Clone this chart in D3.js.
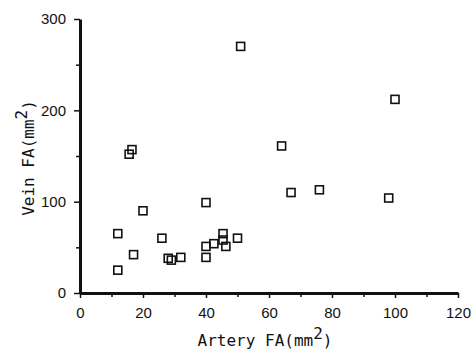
<!DOCTYPE html>
<html>
<head>
<meta charset="utf-8">
<script src="https://cdn.jsdelivr.net/npm/d3@7"></script>
<style>
  body { margin: 0; background: #fff; }
  svg { display: block; }
  .tick text { font-family: "Liberation Sans", sans-serif; font-size: 15px; fill: #111; }
  .title { font-family: "DejaVu Sans Mono", monospace; font-size: 16px; fill: #111; }
</style>
</head>
<body>
<svg></svg>
<script>
let width = 472,
    height = 349

// artery FA (mm^2) and vein FA (mm^2)
const arteryFA = [51, 100, 64, 15.6, 16.5, 12, 12, 17, 20, 26, 28, 29, 32, 40, 40, 40, 42.5, 45.4, 45.4, 46.3, 50, 67, 76, 98]
const veinFA   = [270, 212, 161, 152, 157, 25, 65, 42, 90, 60, 38, 36, 39, 99, 51, 39, 54, 65, 58, 51, 60, 110, 113, 104]

const xTicks = [0, 20, 40, 60, 80, 100, 120]
const xMinor = [10, 30, 50, 70, 90, 110]
const yTicks = [0, 100, 200, 300]
const yMinor = [50, 150, 250]

const points = arteryFA.map((a, i) => ({x: a, y: veinFA[i]}))

const svg = d3.select("svg")
    .attr("width", width)
    .attr("height", height)

const x = d3.scaleLinear().domain([0, 120]).range([80, 458])
const y = d3.scaleLinear().domain([0, 300]).range([293, 19])

// minor ticks first, then the labelled ones on top
svg.append("g")
    .attr("transform", `translate(0,${y(0)})`)
    .call(d3.axisBottom(x).tickValues(xMinor).tickSize(4).tickFormat(""))
    .call(g => g.select(".domain").remove())
    .selectAll("line").attr("stroke", "#111").attr("stroke-width", 1.5)

svg.append("g")
    .attr("transform", `translate(${x(0)},0)`)
    .call(d3.axisLeft(y).tickValues(yMinor).tickSize(4).tickFormat(""))
    .call(g => g.select(".domain").remove())
    .selectAll("line").attr("stroke", "#111").attr("stroke-width", 1.5)

const xAxis = svg.append("g")
    .attr("transform", `translate(0,${y(0)})`)
    .call(d3.axisBottom(x).tickValues(xTicks).tickSize(5).tickSizeOuter(0).tickPadding(9))
xAxis.select(".domain").attr("stroke", "#111").attr("stroke-width", 3)
xAxis.selectAll(".tick line").attr("stroke", "#111").attr("stroke-width", 1.5)

const yAxis = svg.append("g")
    .attr("transform", `translate(${x(0)},0)`)
    .call(d3.axisLeft(y).tickValues(yTicks).tickSize(6).tickSizeOuter(0).tickPadding(8))
yAxis.select(".domain").attr("stroke", "#111").attr("stroke-width", 3)
yAxis.selectAll(".tick line").attr("stroke", "#111").attr("stroke-width", 1.5)

// axis titles
const xt = svg.append("text")
    .attr("class", "title")
    .attr("x", 265)
    .attr("y", 346)
    .attr("text-anchor", "middle")
xt.append("tspan").text("Artery FA(mm")
xt.append("tspan").attr("dy", -7).text("2")
xt.append("tspan").attr("dy", 7).text(")")

const yt = svg.append("text")
    .attr("class", "title")
    .attr("transform", "translate(34,158) rotate(-90)")
    .attr("text-anchor", "middle")
yt.append("tspan").text("Vein FA(mm")
yt.append("tspan").attr("dy", -7).text("2")
yt.append("tspan").attr("dy", 7).text(")")

// square markers
svg.append("g")
    .selectAll("rect")
    .data(points)
    .enter()
    .append("rect")
    .attr("x", d => x(d.x) - 4)
    .attr("y", d => y(d.y) - 4)
    .attr("width", 8)
    .attr("height", 8)
    .attr("fill", "none")
    .attr("stroke", "#111")
    .attr("stroke-width", 1.6)
</script>
</body>
</html>
